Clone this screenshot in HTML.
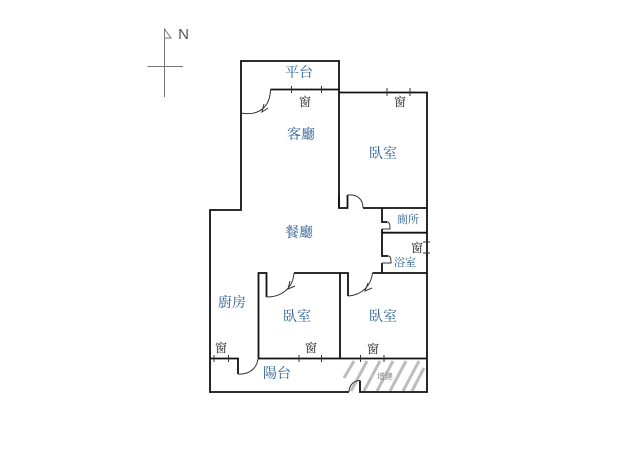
<!DOCTYPE html>
<html><head><meta charset="utf-8"><style>html,body{margin:0;padding:0;background:#fff}svg{display:block}
.l{font-family:"Liberation Serif","Noto Serif CJK SC",serif;fill:#2a5f94;text-anchor:middle;font-size:14px}
.s{font-size:11px}.w{font-family:"Liberation Serif","Noto Serif CJK SC",serif;fill:#111;text-anchor:middle;font-size:12px}</style></head><body>
<svg width="640" height="452" viewBox="0 0 640 452" xmlns="http://www.w3.org/2000/svg">
<rect width="640" height="452" fill="#fff"/>
<g stroke="#bdbdbd" stroke-width="3" fill="none">
<path d="M354 361L344 378M367 361L351 391M380 361L364 391M393 361L377 391M406 361L390 391M419 361L403 391M424 368L412 391"/>
</g>
<text x="385" y="379" font-family="'Liberation Sans','Noto Sans CJK TC',sans-serif" font-size="8" fill="#888" text-anchor="middle">增建</text>
<g stroke="#777" stroke-width="1" fill="none"><path d="M164.500 97V29L171 38H164.500"/><path d="M147.500 66.500H183"/></g>
<text x="183.500" y="39" font-family="'Liberation Sans',sans-serif" font-size="15" fill="#555" text-anchor="middle">N</text>
<g stroke="#111" stroke-width="1.800" fill="none">
<path d="M241 209V61H339V208"/>
<path d="M270.500 89.500H339"/>
<path d="M339 92.500H427V392H360V380.500"/>
<path d="M339 195V208H347.500V195M363 208H427"/>
<path d="M242 210H210V392H349"/>
<path d="M382 208V222H387M382 229V232.700H427M382 232.700V256H388M382 263V273"/>
<path d="M372.500 273H427M340 358V273H348V296M258.500 358V273H266.500V297M294 273H340"/>
<path d="M210 358.500H238V374M258 358.500H427"/>
</g>
<g stroke="#333" stroke-width="1" fill="none">
<path d="M241 113C258 116 270 108 270.500 89.500"/><path d="M264 104L262 112L268 108"/>
<path d="M347.500 195C357 194 363 199 363 208"/>
<path d="M387 222C390 222 390 226 390 229H382M388 256C391 256 391 260 391 263H382"/>
<path d="M372.500 273C371 286 362 295 348 296"/><path d="M368 283L365 291L372 288"/>
<path d="M294 273C293 287 283 297 266.500 297"/><path d="M290 281L288 289L295 286"/>
<path d="M238 374C248 375 257 369 258 358.500"/>
<path d="M349 392C349 385 354 380.500 360 380.500"/>
<path d="M291.500 86V93M321.500 86V93M387 88V96M410 88V96M214 355V362M228.500 355V362M299 355V362M321.500 355V362M360.500 355V362M384 355V362M423 242H430M423 253H430M426.500 242V253"/>
</g>
<text class="l" x="299" y="77">平台</text><text class="l" x="301" y="139">客廳</text><text class="l" x="383" y="158">臥室</text>
<text class="l" x="299" y="237">餐廳</text><text class="l" x="232" y="307">廚房</text><text class="l" x="297" y="321">臥室</text>
<text class="l" x="383" y="321">臥室</text><text class="l" x="277" y="378">陽台</text><text class="l s" x="408" y="223">廁所</text><text class="l s" x="405" y="266">浴室</text>
<text class="w" x="305" y="106">窗</text><text class="w" x="400" y="106">窗</text><text class="w" x="417" y="252">窗</text><text class="w" x="221" y="352">窗</text><text class="w" x="311" y="352">窗</text><text class="w" x="373" y="353">窗</text>
</svg></body></html>
